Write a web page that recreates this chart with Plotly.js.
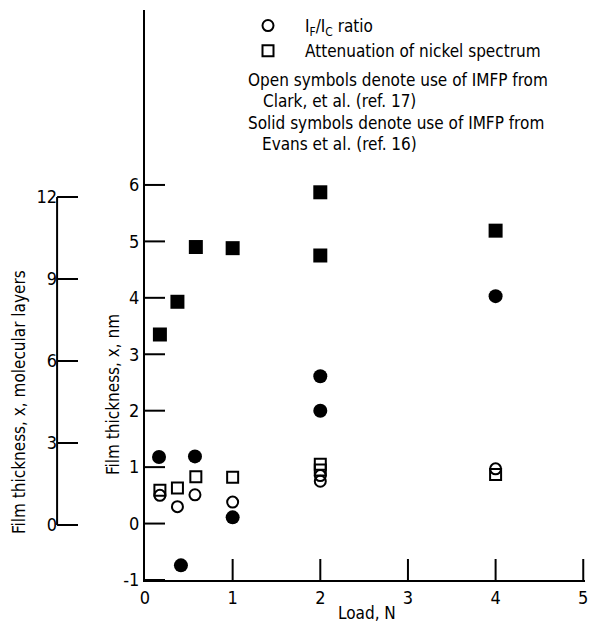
<!DOCTYPE html>
<html>
<head>
<meta charset="utf-8">
<script src="https://cdn.plot.ly/plotly-3.0.1.min.js"></script>
<style>html,body{margin:0;padding:0;background:#fff;}#chart{width:591px;height:624px;}</style>
</head>
<body>
<div id="chart"></div>
<script>
// Load, N  /  film thickness, nm
const openCircleX = [0.17, 0.37, 0.57, 1.0, 2.0, 2.0, 4.0];
const openCircleY = [0.50, 0.30, 0.51, 0.38, 0.85, 0.75, 0.97];
const openSquareX = [0.17, 0.37, 0.58, 1.0, 2.0, 2.0, 4.0];
const openSquareY = [0.59, 0.63, 0.83, 0.82, 1.05, 0.95, 0.87];
const solidCircleX = [0.16, 0.41, 0.57, 1.0, 2.0, 2.0, 4.0];
const solidCircleY = [1.18, -0.74, 1.19, 0.11, 2.61, 2.00, 4.03];
const solidSquareX = [0.17, 0.37, 0.58, 1.0, 2.0, 2.0, 4.0];
const solidSquareY = [3.35, 3.93, 4.90, 4.88, 4.75, 5.87, 5.19];

const xTicks = [0, 1, 2, 3, 4, 5];
const yTicks = [-1, 0, 1, 2, 3, 4, 5, 6];
const yTickText = ["-1", "0", "1", "2", "3", "4", "5", "6"];
const layerTicks = [0, 3, 6, 9, 12];

const FONT = "Liberation Sans Narrow, DejaVu Sans Condensed, Arial Narrow, sans-serif";

const W = 585, H = 570; // paper size in px (l=0, r=6, t=10, b=44)
const px = v => v / W;
const py = v => (580 - v) / H;

const X_RANGE = [0, 5.02], Y_RANGE = [-1, 9.1];
const X_PX = W * (1 - px(145)), Y_PX = H;
// tick lengths (px) converted to axis units
const xTickLen = 21 * (Y_RANGE[1] - Y_RANGE[0]) / Y_PX;
const yTickLen = 20 * (X_RANGE[1] - X_RANGE[0]) / X_PX;

const seg = (vals, f) => vals.reduce((a, v) => a.concat(f(v), [null]), []);
const tickStyle = {mode: 'lines', type: 'scatter', showlegend: false, hoverinfo: 'skip',
                   line: {color: '#000', width: 2}};

const traces = [
  {x: openCircleX, y: openCircleY, mode: 'markers', type: 'scatter',
   name: 'I<sub>F</sub>/I<sub>C</sub> ratio',
   marker: {symbol: 'circle-open', size: 11, color: '#000', line: {width: 2, color: '#000'}}},
  {x: openSquareX, y: openSquareY, mode: 'markers', type: 'scatter',
   name: 'Attenuation of nickel spectrum',
   marker: {symbol: 'square-open', size: 11, color: '#000', line: {width: 2, color: '#000'}}},
  {x: solidCircleX, y: solidCircleY, mode: 'markers', type: 'scatter', showlegend: false,
   marker: {symbol: 'circle', size: 14, color: '#000'}},
  {x: solidSquareX, y: solidSquareY, mode: 'markers', type: 'scatter', showlegend: false,
   marker: {symbol: 'square', size: 14, color: '#000'}},
  // inward tick marks of the load axis
  Object.assign({}, tickStyle, {x: seg(xTicks.slice(1), v => [v, v]),
                                y: seg(xTicks.slice(1), v => [Y_RANGE[0], Y_RANGE[0] + xTickLen])}),
  // inward tick marks of the nm axis
  Object.assign({}, tickStyle, {x: seg(yTicks, v => [0, yTickLen]), y: seg(yTicks, v => [v, v])}),
  // molecular-layer axis line and its ticks
  Object.assign({}, tickStyle, {xaxis: 'x2', yaxis: 'y2',
                                x: [0, 0, null].concat(seg(layerTicks, v => [0, 1])),
                                y: [layerTicks[0], layerTicks[layerTicks.length - 1], null].concat(seg(layerTicks, v => [v, v]))})
];

const axisCommon = {showgrid: false, zeroline: false, showline: true, linewidth: 2, linecolor: '#000',
  ticks: '', tickfont: {family: FONT, size: 18, color: '#000'}, fixedrange: true};

const layout = {
  width: 591, height: 624,
  margin: {l: 0, r: 6, t: 10, b: 44},
  paper_bgcolor: '#fff', plot_bgcolor: 'rgba(0,0,0,0)',
  font: {family: FONT, size: 17, color: '#000'},
  showlegend: true,
  legend: {x: px(231), y: py(8), xanchor: 'left', yanchor: 'top',
           bgcolor: 'rgba(0,0,0,0)', font: {family: FONT, size: 17, color: '#000'},
           itemwidth: 64},
  xaxis: Object.assign({}, axisCommon, {domain: [px(145), 1], range: X_RANGE, tickvals: xTicks}),
  yaxis: Object.assign({}, axisCommon, {domain: [0, 1], range: Y_RANGE, tickvals: yTicks, ticktext: yTickText}),
  xaxis2: {domain: [px(55), px(78)], range: [-0.1, 1], visible: false, anchor: 'y2', fixedrange: true},
  yaxis2: Object.assign({}, axisCommon, {anchor: 'free', position: px(57), side: 'left', showline: false,
           domain: [py(531.8), py(190.2)], range: [-0.25, 12.25], tickvals: layerTicks}),
  annotations: [
    {text: 'Film thickness, x, molecular layers', xref: 'paper', yref: 'paper',
     x: px(19), y: py(402), textangle: -90, showarrow: false, xanchor: 'center', yanchor: 'middle'},
    {text: 'Film thickness, x, nm', xref: 'paper', yref: 'paper',
     x: px(113), y: py(395), textangle: -90, showarrow: false, xanchor: 'center', yanchor: 'middle'},
    {text: 'Load, N', xref: 'paper', yref: 'paper',
     x: px(367), y: py(613), showarrow: false, xanchor: 'center', yanchor: 'middle'},
    {text: 'Open symbols denote use of IMFP from', xref: 'paper', yref: 'paper',
     x: px(246), y: py(80), showarrow: false, xanchor: 'left', yanchor: 'middle'},
    {text: 'Clark, et al. (ref. 17)', xref: 'paper', yref: 'paper',
     x: px(261), y: py(101), showarrow: false, xanchor: 'left', yanchor: 'middle'},
    {text: 'Solid symbols denote use of IMFP from', xref: 'paper', yref: 'paper',
     x: px(246), y: py(123), showarrow: false, xanchor: 'left', yanchor: 'middle'},
    {text: 'Evans et al. (ref. 16)', xref: 'paper', yref: 'paper',
     x: px(260), y: py(144), showarrow: false, xanchor: 'left', yanchor: 'middle'}
  ]
};

Plotly.newPlot('chart', traces, layout, {staticPlot: true});
</script>
</body>
</html>
